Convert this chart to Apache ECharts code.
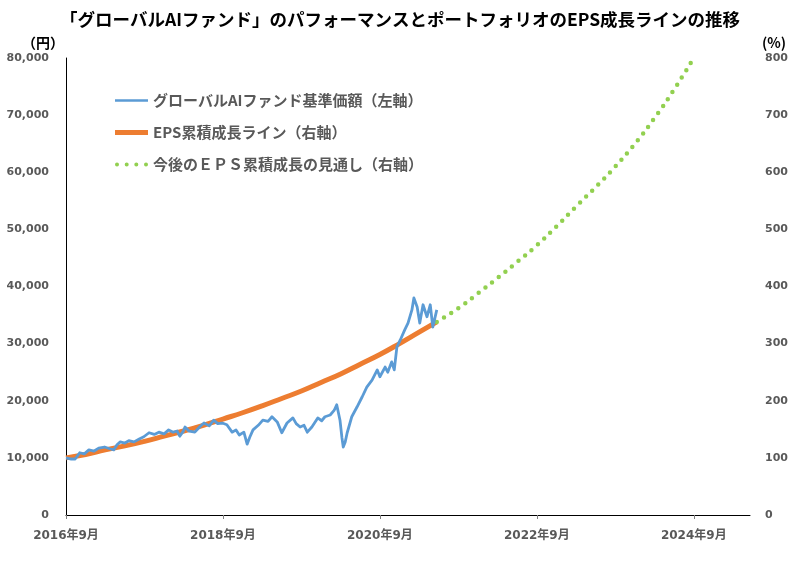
<!DOCTYPE html>
<html>
<head>
<meta charset="utf-8">
<script src="https://cdn.jsdelivr.net/npm/echarts@6/dist/echarts.min.js"></script>
<style>
html,body{margin:0;padding:0;background:#fff;}
#chart{width:800px;height:564px;}
</style>
</head>
<body>
<div id="chart"></div>
<script>
// x values are months counted from 2016年9月
const xTickLabels = ['2016年9月', '2018年9月', '2020年9月', '2022年9月', '2024年9月'];

const fundMonths = [0.0,0.8,1.4,2.1,2.8,3.5,4.3,5.0,5.9,6.7,7.3,7.8,8.3,9.0,9.6,10.4,11.2,11.9,12.7,13.5,14.2,15.0,15.7,16.4,17.0,17.4,17.9,18.2,18.8,19.3,19.7,20.5,21.1,21.9,22.6,23.2,23.9,24.6,25.4,26.0,26.5,27.2,27.7,28.1,28.6,29.4,30.1,30.9,31.5,32.3,33.0,33.8,34.7,35.2,35.8,36.4,36.9,37.6,38.5,39.1,39.6,40.4,41.0,41.4,41.9,42.2,42.4,42.7,43.0,43.7,44.5,45.3,46.0,46.8,47.6,48.0,48.8,49.2,49.8,50.2,50.6,51.1,51.8,52.3,52.9,53.2,53.7,54.1,54.6,55.2,55.7,56.1,56.7];
const fundValues = [10000,9800,9800,10900,10700,11400,11200,11700,11900,11600,11400,12300,12800,12600,13000,12800,13300,13700,14400,14100,14500,14200,14900,14500,14700,13800,14600,15400,14700,14600,14500,15500,16100,15600,16600,16000,16100,15800,14500,14900,14000,14500,12400,13600,14900,15700,16600,16400,17200,16300,14400,16100,17000,16000,15400,15700,14500,15400,17000,16500,17200,17500,18300,19300,16600,13500,11900,12800,14400,17200,18900,20700,22400,23600,25400,24200,25900,25000,26800,25400,29400,30600,32400,33600,35900,38000,36400,33600,36800,34700,36800,32900,35900];

const epsMonths = [0,3,6,9,12,15,18,21,24,27,30,33,36,39,42,45,48,51,54,56.7];
const epsValues = [100,106,114,121,129,138,147,157,168,179,191,204,217,232,247,264,281,300,320,338];

const outlookMonths = [56.7,60,63,66,69,72,75,78,81,84,87,90,93,96];
const outlookValues = [338,362,388,415,443,472,505,540,574,610,650,695,745,800];

const seriesNames = ['グローバルAIファンド基準価額（左軸）', 'EPS累積成長ライン（右軸）', '今後のＥＰＳ累積成長の見通し（右軸）'];

const zip = (a, b) => a.map((v, i) => [v, b[i]]);

const chart = echarts.init(document.getElementById('chart'), null, {renderer: 'canvas'});
const CJK = '"Noto Sans CJK JP", "Noto Sans", sans-serif';
const NUM = '"DejaVu Sans", "Noto Sans CJK JP", sans-serif';
const numLabel = {color: '#595959', fontSize: 11, fontWeight: 'bold', fontFamily: NUM};

const iconBlue = 'path://M0,0 M33,10 M0,3.8 L33,3.8 L33,6.2 L0,6.2 Z';
const iconOrange = 'path://M0,0 M33,10 M0,2.5 L33,2.5 L33,7.5 L0,7.5 Z';
const iconGreen = 'path://M0,0 M33,10 M0,5 A2,2 0 1,1 4,5 A2,2 0 1,1 0,5 Z M9.7,5 A2,2 0 1,1 13.7,5 A2,2 0 1,1 9.7,5 Z M19.3,5 A2,2 0 1,1 23.3,5 A2,2 0 1,1 19.3,5 Z M29,5 A2,2 0 1,1 33,5 A2,2 0 1,1 29,5 Z';

chart.setOption({
  animation: false,
  backgroundColor: '#ffffff',
  title: {
    text: '「グローバルAIファンド」のパフォーマンスとポートフォリオのEPS成長ラインの推移',
    left: 'center', top: 6,
    textStyle: {fontSize: 17.5, fontWeight: 'bold', color: '#000', fontFamily: CJK}
  },
  legend: {
    orient: 'vertical', left: 115, top: 93, itemGap: 17, padding: 0,
    itemWidth: 33, itemHeight: 10,
    data: [
      {name: seriesNames[0], icon: iconBlue},
      {name: seriesNames[1], icon: iconOrange},
      {name: seriesNames[2], icon: iconGreen}
    ],
    textStyle: {color: '#595959', fontSize: 15, fontWeight: 'bold', fontFamily: CJK}
  },
  grid: {left: 66, right: 50, top: 58, bottom: 49, containLabel: false},
  xAxis: {
    type: 'value', min: 0, max: 104.6, interval: 24,
    splitLine: {show: false},
    axisLine: {show: true, lineStyle: {color: '#000', width: 1}},
    axisTick: {show: true, length: 4, lineStyle: {color: '#7f7f7f'}},
    axisLabel: Object.assign({}, numLabel, {
      fontSize: 12, margin: 15, showMaxLabel: false,
      formatter: v => (v % 24 === 0 ? xTickLabels[v / 24] : '')
    })
  },
  yAxis: [
    {
      type: 'value', min: 0, max: 80000, interval: 10000,
      name: '（円）', nameLocation: 'end', nameGap: 8,
      nameTextStyle: {color: '#000', fontSize: 14, fontWeight: 'bold', fontFamily: CJK, align: 'right', padding: [0, 2, 0, 0]},
      splitLine: {show: false},
      axisLine: {show: true, lineStyle: {color: '#000', width: 1}},
      axisTick: {show: false},
      axisLabel: Object.assign({}, numLabel, {margin: 17})
    },
    {
      type: 'value', min: 0, max: 800, interval: 100,
      name: '(%)', nameLocation: 'end', nameGap: 8,
      nameTextStyle: {color: '#000', fontSize: 14, fontWeight: 'bold', fontFamily: CJK, align: 'left', padding: [0, 0, 0, 12]},
      splitLine: {show: false},
      axisLine: {show: false},
      axisTick: {show: false},
      axisLabel: Object.assign({}, numLabel, {margin: 15})
    }
  ],
  series: [
    {
      name: seriesNames[0], type: 'line', yAxisIndex: 0,
      data: zip(fundMonths, fundValues),
      symbol: 'none', smooth: false,
      lineStyle: {color: '#5B9BD5', width: 2.8, join: 'round'},
      itemStyle: {color: '#5B9BD5'},
      z: 3
    },
    {
      name: seriesNames[1], type: 'line', yAxisIndex: 1,
      data: zip(epsMonths, epsValues),
      symbol: 'none', smooth: true,
      lineStyle: {color: '#ED7D31', width: 5},
      itemStyle: {color: '#ED7D31'},
      z: 2
    },
    {
      name: seriesNames[2], type: 'line', yAxisIndex: 1,
      data: zip(outlookMonths, outlookValues),
      symbol: 'none', smooth: true,
      lineStyle: {color: '#92D050', width: 4.5, type: [0, 8.5], cap: 'round'},
      itemStyle: {color: '#92D050'},
      z: 2
    }
  ]
});
</script>
</body>
</html>
